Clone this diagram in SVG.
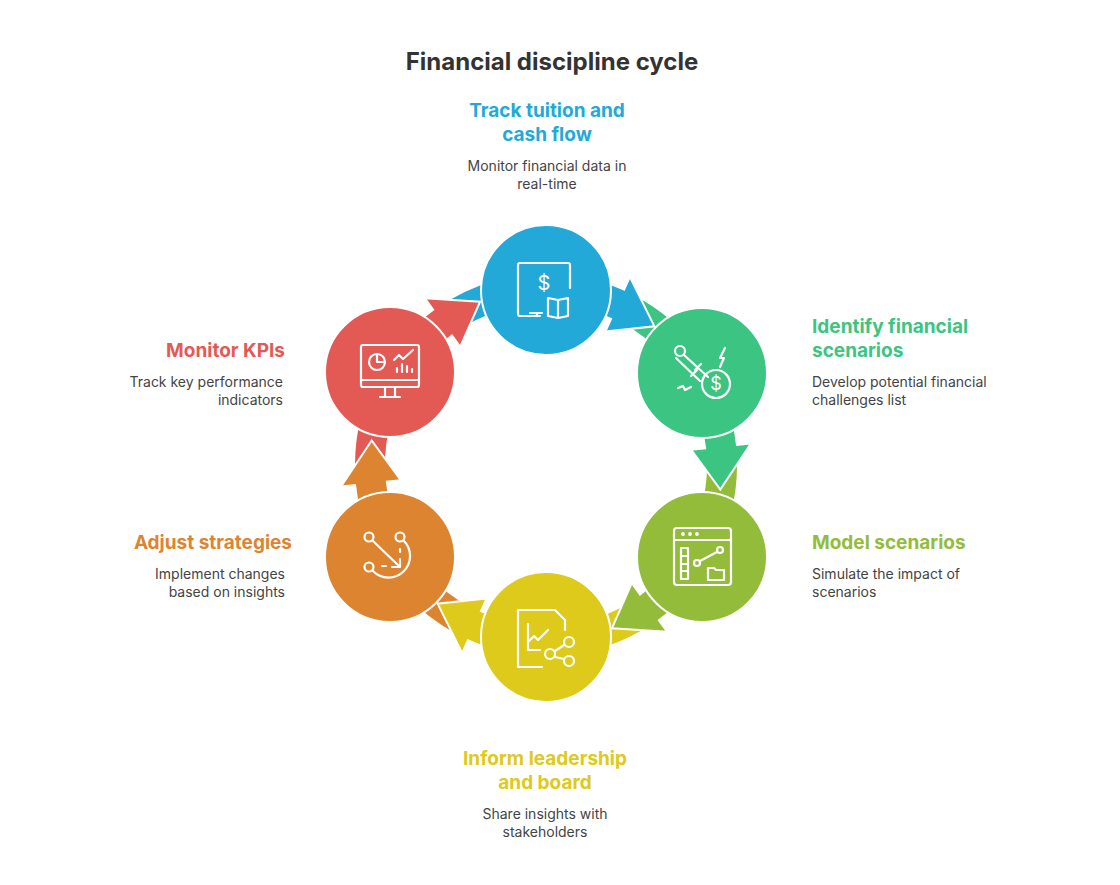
<svg xmlns="http://www.w3.org/2000/svg" width="1120" height="885" viewBox="0 0 1120 885">
<style>
.t{font-family:"Inter","Liberation Sans",sans-serif}
.h{font-size:19px;font-weight:700}
.d{font-size:14px;fill:#444}
.ic{fill:none;stroke:#fff;stroke-width:2.2;stroke-linecap:round;stroke-linejoin:round}
.node circle.c{stroke:#fff;stroke-width:2}
.arr{stroke:#fff;stroke-width:2}
</style>
<defs>
<path id="tl" d="M450,298.7 A192,192 0 0 1 546,273 L546,305 A160,160 0 0 0 466,326.4 Z"/>
<path id="ar" d="M546,273 A192,192 0 0 1 624.1,289.6 L629.8,276.8 L654.4,326.3 L605.4,331.6 L611.1,318.8 A160,160 0 0 0 546,305 Z"/>
</defs>
<rect width="1120" height="885" fill="#fff"/>
<text class="t" x="552" y="70" text-anchor="middle" font-size="24" font-weight="700" fill="#333">Financial discipline cycle</text>
<g id="connectors">
<use href="#tl" class="arr" fill="#22A9D8"/>
<use href="#tl" class="arr" fill="#3CC483" transform="rotate(60 546 465)"/>
<use href="#tl" class="arr" fill="#93BC3B" transform="rotate(120 546 465)"/>
<use href="#tl" class="arr" fill="#DDCA1A" transform="rotate(180 546 465)"/>
<use href="#tl" class="arr" fill="#DD8431" transform="rotate(240 546 465)"/>
<use href="#tl" class="arr" fill="#E35A55" transform="rotate(300 546 465)"/>
<use href="#ar" class="arr" fill="#22A9D8"/>
<use href="#ar" class="arr" fill="#3CC483" transform="rotate(60 546 465)"/>
<use href="#ar" class="arr" fill="#93BC3B" transform="rotate(120 546 465)"/>
<use href="#ar" class="arr" fill="#DDCA1A" transform="rotate(180 546 465)"/>
<use href="#ar" class="arr" fill="#DD8431" transform="rotate(240 546 465)"/>
<use href="#ar" class="arr" fill="#E35A55" transform="rotate(300 546 465)"/>
</g>
<g id="n1" class="node">
<circle class="c" cx="546" cy="290" r="65" fill="#22A9D8"/>
<g class="ic"><path d="M540,316 H520 a2,2 0 0 1 -2,-2 V265 a2,2 0 0 1 2,-2 H568 a2,2 0 0 1 2,2 V288"/><path d="M537,316 V313 M530,313 H542"/><path d="M548,298 l10,2 l10,-2 V316 l-10,2 l-10,-2 Z M558,300 V318"/></g>
<text x="544" y="290" font-size="20" fill="#fff" text-anchor="middle" class="t">$</text>
<text class="t h" x="547" y="117" text-anchor="middle" fill="#22A9D8">Track tuition and</text>
<text class="t h" x="547" y="141" text-anchor="middle" fill="#22A9D8">cash flow</text>
<text class="t d" x="547" y="171" text-anchor="middle">Monitor financial data in</text>
<text class="t d" x="547" y="189" text-anchor="middle">real-time</text>
</g>
<g id="n2" class="node">
<circle class="c" cx="702" cy="373" r="65" fill="#3CC483"/>
<g class="ic"><circle cx="680" cy="351" r="5"/><path d="M684,355 L708,377 M676,358 L700,381 M697,370 l-6,6 M701,364 l-6,6 M725,348 l-5,10 l4,0 l-4,9"/><circle cx="716" cy="384" r="14"/><path d="M678,388 l5,-2 l2,4 l6,-3"/></g>
<text class="t" x="716" y="390" font-size="18" fill="#fff" text-anchor="middle">$</text>
<text class="t h" x="812" y="333" fill="#3CC483">Identify financial</text>
<text class="t h" x="812" y="357" fill="#3CC483">scenarios</text>
<text class="t d" x="812" y="387">Develop potential financial</text>
<text class="t d" x="812" y="405">challenges list</text>
</g>
<g id="n3" class="node">
<circle class="c" cx="702" cy="557" r="65" fill="#93BC3B"/>
<g class="ic"><rect x="674" y="528" width="57" height="57" rx="3"/><path d="M674,540 H731"/><circle cx="683" cy="534" r="0.8"/><circle cx="690" cy="534" r="0.8"/><circle cx="697" cy="534" r="0.8"/><rect x="681" y="548" width="7" height="31"/><path d="M681,556 H688 M681,564 H688 M681,571 H688"/><circle cx="697" cy="563" r="3"/><circle cx="720" cy="550" r="3"/><path d="M700,561 L717,552 M708,568 h6 l2,2 h8 v10 h-16 Z"/></g>
<text class="t h" x="812" y="549" fill="#93BC3B">Model scenarios</text>
<text class="t d" x="812" y="579">Simulate the impact of</text>
<text class="t d" x="812" y="597">scenarios</text>
</g>
<g id="n4" class="node">
<circle class="c" cx="546" cy="637" r="65" fill="#DDCA1A"/>
<g class="ic"><path d="M542,667 H518 V610 H555 L565,620 V630 M528,624 V650 H540 M528,642 l6,-6 l4,4 l10,-10"/><circle cx="550" cy="654" r="5"/><circle cx="569" cy="642" r="5"/><circle cx="569" cy="661" r="5"/><path d="M555,651 L564,645 M555,657 L564,659"/></g>
<text class="t h" x="545" y="765" text-anchor="middle" fill="#DDCA1A">Inform leadership</text>
<text class="t h" x="545" y="789" text-anchor="middle" fill="#DDCA1A">and board</text>
<text class="t d" x="545" y="819" text-anchor="middle">Share insights with</text>
<text class="t d" x="545" y="837" text-anchor="middle">stakeholders</text>
</g>
<g id="n5" class="node">
<circle class="c" cx="390" cy="557" r="65" fill="#DD8431"/>
<g class="ic"><circle cx="369" cy="537" r="4.5"/><circle cx="400" cy="537" r="4.5"/><circle cx="369" cy="567" r="4.5"/><path d="M373,541 L400,567 M400,559 V567 H392 M382,566 H386 M400,549 V552 M404,541 A20,20 0 0 1 373,571"/></g>
<text class="t h" x="292" y="549" text-anchor="end" fill="#DD8431">Adjust strategies</text>
<text class="t d" x="285" y="579" text-anchor="end">Implement changes</text>
<text class="t d" x="285" y="597" text-anchor="end">based on insights</text>
</g>
<g id="n6" class="node">
<circle class="c" cx="390" cy="372" r="65" fill="#E35A55"/>
<g class="ic"><rect x="361" y="345" width="58" height="42" rx="2"/><path d="M361,380 H419 M385,387 v10 M395,387 v10 M380,397 H400"/><circle cx="377" cy="362" r="8"/><path d="M377,354 V362 H385 M394,360 l5,-5 l4,4 l10,-9 M397,372 v-4 M402,372 v-8 M407,372 v-6 M412,372 v-3"/></g>
<text class="t h" x="285" y="357" text-anchor="end" fill="#E35A55">Monitor KPIs</text>
<text class="t d" x="283" y="387" text-anchor="end">Track key performance</text>
<text class="t d" x="283" y="405" text-anchor="end">indicators</text>
</g>
</svg>
